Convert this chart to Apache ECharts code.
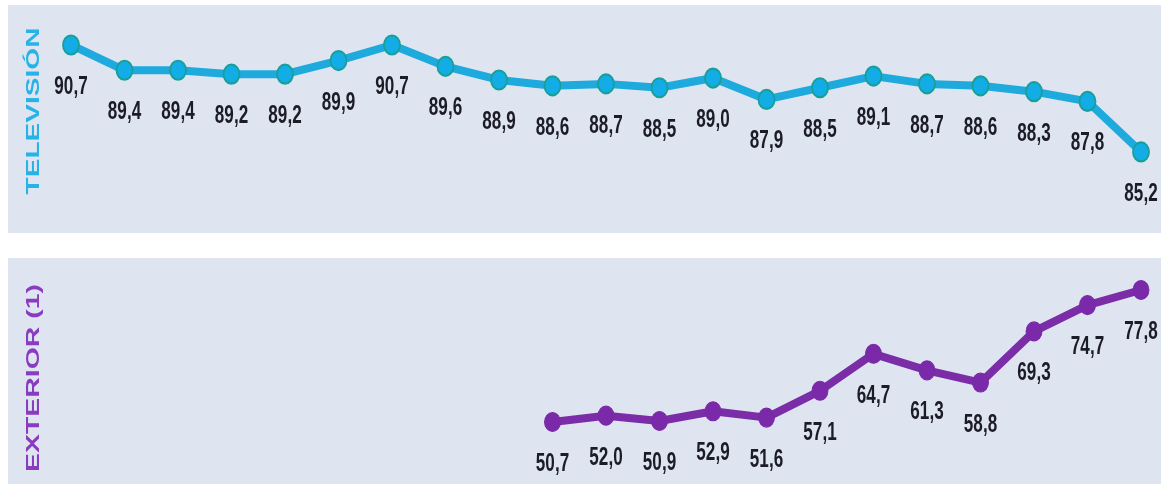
<!DOCTYPE html>
<html>
<head>
<meta charset="utf-8">
<script src="https://cdn.jsdelivr.net/npm/echarts@6/dist/echarts.min.js"></script>
<style>
  html, body { margin: 0; padding: 0; background: #ffffff; }
  #chart { width: 1161px; height: 484px; }
</style>
</head>
<body>
<div id="chart"></div>
<script>
// Period slots shared by both panels (21 waves)
const periods = ['1','2','3','4','5','6','7','8','9','10','11','12','13','14','15','16','17','18','19','20','21'];

// Television audience (%)
const tvValues = [90.7, 89.4, 89.4, 89.2, 89.2, 89.9, 90.7, 89.6, 88.9, 88.6, 88.7, 88.5, 89.0, 87.9, 88.5, 89.1, 88.7, 88.6, 88.3, 87.8, 85.2];

// Outdoor audience (%), measured from the 10th wave onward
const extStart = 9;
const extValues = [50.7, 52.0, 50.9, 52.9, 51.6, 57.1, 64.7, 61.3, 58.8, 69.3, 74.7, 77.8];

const panelTitles = ['TELEVISIÓN', 'EXTERIOR (1)'];

const extSeriesData = periods.map((p, i) =>
  i >= extStart ? extValues[i - extStart] : null);

const fmt = v => v.toFixed(1).replace('.', ',');

// Value labels: tall, tight bold digits placed under each point
function valueLabels(values, offset, gridIdx) {
  return {
    type: 'custom',
    xAxisIndex: gridIdx, yAxisIndex: gridIdx,
    clip: false, silent: true, z: 5,
    data: values.map((v, i) => [i + offset, v]),
    renderItem: (params, api) => {
      const v = api.value(1);
      const pt = api.coord([api.value(0), v]);
      return {
        type: 'text',
        x: pt[0], y: pt[1] + 42,
        scaleX: 0.95, scaleY: 1.4,
        style: {
          text: fmt(v),
          fill: '#1c1c26',
          font: 'bold 18px "Liberation Sans", Arial, sans-serif',
          align: 'center', verticalAlign: 'middle'
        }
      };
    }
  };
}

const chart = echarts.init(document.getElementById('chart'), null, { renderer: 'canvas' });

const hiddenY = (min, max, idx) => ({
  type: 'value', gridIndex: idx, min, max,
  axisLine: { show: false }, axisTick: { show: false },
  axisLabel: { show: false }, splitLine: { show: false }
});
const hiddenX = idx => ({
  type: 'category', gridIndex: idx, data: periods, boundaryGap: false,
  axisLine: { show: false }, axisTick: { show: false },
  axisLabel: { show: false }, splitLine: { show: false }
});

chart.setOption({
  animation: false,
  backgroundColor: '#ffffff',
  graphic: [
    { type: 'rect', z: -10, shape: { x: 8, y: 5, width: 1153, height: 228 }, style: { fill: '#dee5f1' } },
    { type: 'rect', z: -10, shape: { x: 8, y: 258, width: 1153, height: 226 }, style: { fill: '#dee5f1' } },
    { type: 'text', x: 34, y: 111, rotation: Math.PI / 2, scaleX: 1.56, scaleY: 1,
      style: { text: panelTitles[0], fill: '#27b3e5', font: 'bold 18px "Liberation Sans", Arial, sans-serif',
               align: 'center', verticalAlign: 'middle' } },
    { type: 'text', x: 34.5, y: 378, rotation: Math.PI / 2, scaleX: 1.58, scaleY: 1,
      style: { text: panelTitles[1], fill: '#8a3cc0', font: 'bold 18px "Liberation Sans", Arial, sans-serif',
               align: 'center', verticalAlign: 'middle' } }
  ],
  grid: [
    { left: 71, right: 20, top: 19.7, height: 155.6 },
    { left: 71, right: 20, top: 279.3, height: 194.8 }
  ],
  xAxis: [hiddenX(0), hiddenX(1)],
  yAxis: [hiddenY(84, 92, 0), hiddenY(40, 80, 1)],
  series: [
    {
      type: 'line', xAxisIndex: 0, yAxisIndex: 0, data: tvValues,
      symbol: 'circle', symbolSize: [16, 19],
      lineStyle: { color: '#1faade', width: 8 },
      itemStyle: { color: '#12ade6', borderColor: '#1a9f98', borderWidth: 2 }
    },
    {
      type: 'line', xAxisIndex: 1, yAxisIndex: 1, data: extSeriesData,
      symbol: 'circle', symbolSize: [16, 19],
      lineStyle: { color: '#7b2da8', width: 8 },
      itemStyle: { color: '#7a2aa8', borderColor: '#7a2aa8', borderWidth: 1 }
    },
    valueLabels(tvValues, 0, 0),
    valueLabels(extValues, extStart, 1)
  ]
});
</script>
</body>
</html>
